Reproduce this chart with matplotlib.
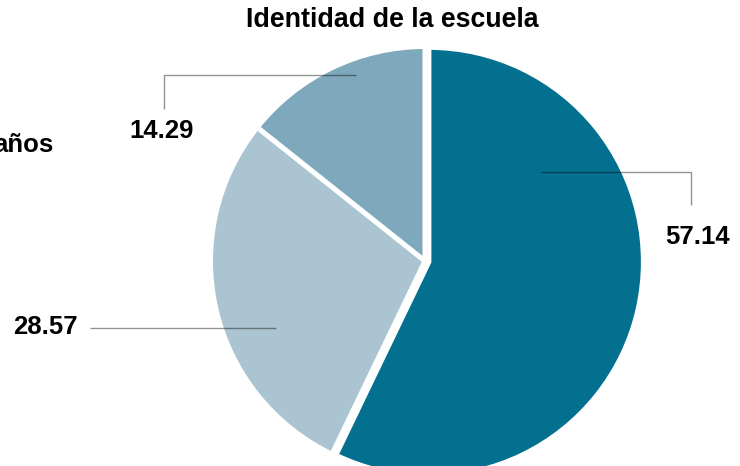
import matplotlib
matplotlib.use("Agg")
import matplotlib.pyplot as plt

# data
categories = ["A", "B", "C"]
values = [57.14, 28.57, 14.29]
value_labels = ["57.14", "28.57", "14.29"]
colors = ["#03708F", "#ABC4D1", "#7EA8BC"]
title = "Identidad de la escuela"

W, H = 740, 466
plt.rcParams['font.family'] = ['Liberation Sans', 'DejaVu Sans']

fig = plt.figure(figsize=(W / 100, H / 100), dpi=100)
ax = fig.add_axes([0, 0, 1, 1])

def Y(y):
    return H - y

cx, cy, r = 425, 261, 214.5
ax.pie(values, colors=colors, startangle=90, counterclock=False,
       center=(cx, Y(cy)), radius=r, explode=[4, 0, 0],
       wedgeprops=dict(edgecolor='white', linewidth=3.6, joinstyle='miter'))

ax.set_xlim(0, W)
ax.set_ylim(0, H)
ax.set_aspect('equal')
ax.axis('off')

lc = dict(color='black', alpha=0.42, lw=1.0, zorder=5, solid_capstyle='butt')
# leader lines (annotations)
ax.plot([541, 691, 691], [Y(172), Y(172), Y(205)], **lc)
ax.plot([276, 90], [Y(328), Y(328)], **lc)
ax.plot([356, 164, 164], [Y(75), Y(75), Y(109)], **lc)

fs = 18.5
ax.text(698, Y(237), value_labels[0], ha='center', va='center', fontsize=fs, fontweight='bold')
ax.text(78, Y(327), value_labels[1], ha='right', va='center', fontsize=fs, fontweight='bold')
ax.text(162, Y(131), value_labels[2], ha='center', va='center', fontsize=fs, fontweight='bold')
ax.text(53, Y(145), "años", ha='right', va='center', fontsize=fs, fontweight='bold')

ax.text(392, Y(20), title, ha='center', va='center', fontsize=19.3, fontweight='bold')

fig.savefig("out.png", dpi=100)
